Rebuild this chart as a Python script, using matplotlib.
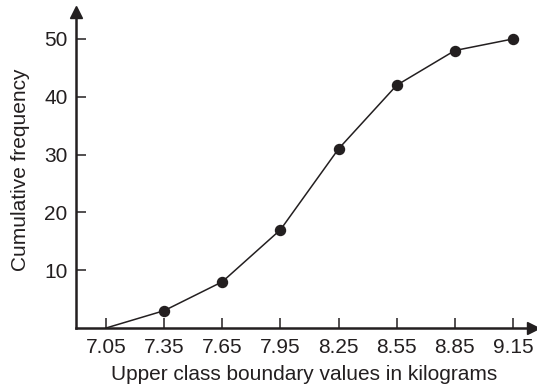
import matplotlib
matplotlib.use("Agg")
import matplotlib.pyplot as plt

boundaries = [7.05, 7.35, 7.65, 7.95, 8.25, 8.55, 8.85, 9.15]
cum_freq = [0, 3, 8, 17, 31, 42, 48, 50]
x_ticks = [7.05, 7.35, 7.65, 7.95, 8.25, 8.55, 8.85, 9.15]
x_labels = ["7.05", "7.35", "7.65", "7.95", "8.25", "8.55", "8.85", "9.15"]
y_ticks = [10, 20, 30, 40, 50]

ink = "#231f20"
plt.rcParams['font.family'] = ['Liberation Sans', 'DejaVu Sans']

W, H = 537, 388
fig = plt.figure(figsize=(W/100, H/100), dpi=100)
left, right, bottom, top = 76, 533, 328, 12
ax = fig.add_axes([left/W, (H-bottom)/H, (right-left)/W, (bottom-top)/H])

ax.plot(boundaries, cum_freq, color=ink, lw=1.1)
ax.plot(boundaries[1:], cum_freq[1:], 'o', color=ink, ms=7.2)

ax.set_xlim(6.895, 9.253)
ax.set_ylim(0, 54.66)
for s in ['top', 'right']:
    ax.spines[s].set_visible(False)
for s in ['left', 'bottom']:
    ax.spines[s].set_linewidth(1.8)
    ax.spines[s].set_color(ink)

ax.set_xticks(x_ticks)
ax.set_xticklabels(x_labels)
ax.set_yticks(y_ticks)
ax.tick_params(direction='in', length=7, width=1.1, colors=ink, labelsize=15)
ax.tick_params(axis='x', pad=7)
ax.tick_params(axis='y', pad=6)

# arrowheads
ax.plot(1, 0, marker='>', color=ink, ms=9, transform=ax.transAxes, clip_on=False)
ax.plot(0, 1, marker='^', color=ink, ms=9, transform=ax.transAxes, clip_on=False)

ax.set_xlabel("Upper class boundary values in kilograms", fontsize=15, color=ink, labelpad=6)
ax.set_ylabel("Cumulative frequency", fontsize=15, color=ink, labelpad=10)

fig.savefig("out.png", dpi=100)
